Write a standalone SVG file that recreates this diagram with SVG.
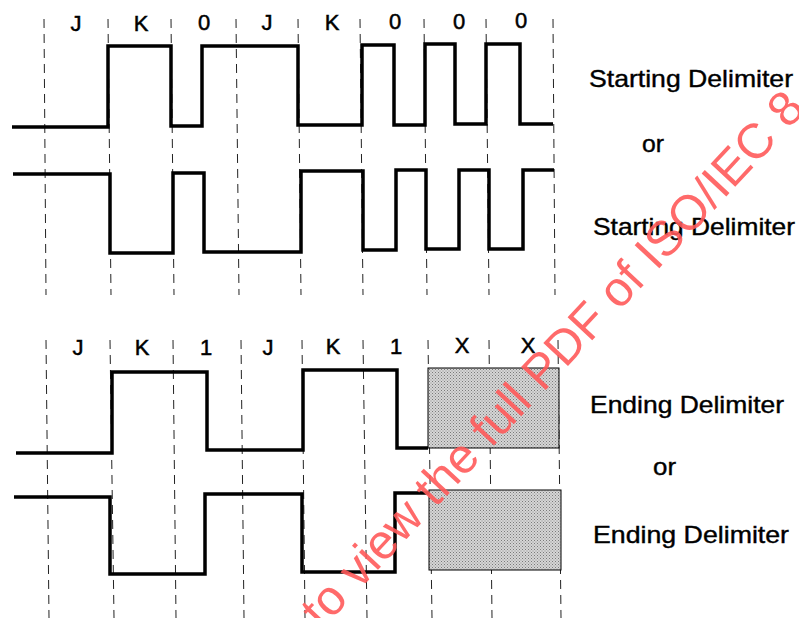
<svg xmlns="http://www.w3.org/2000/svg" width="799" height="618" viewBox="0 0 799 618">
<style>
.grid{stroke:#222;stroke-width:1;stroke-dasharray:9 6;fill:none}
.wave{stroke:#000;stroke-width:3.5;fill:none;stroke-linejoin:miter;stroke-linecap:butt}
.bit{font-family:"Liberation Sans",Arial,sans-serif;font-size:22px;fill:#000;stroke:#000;stroke-width:0.5;text-anchor:middle}
.lbl{font-family:"Liberation Sans",Arial,sans-serif;font-size:24px;fill:#000;stroke:#000;stroke-width:0.4}
.box{fill:url(#stipple);stroke:#000;stroke-width:1}
.wm{font-family:"Liberation Sans",Arial,sans-serif;font-size:49px;fill:#ff5a5a;fill-opacity:0.9}
</style>
<defs>
<pattern id="stipple" width="3" height="3" patternUnits="userSpaceOnUse">
<rect width="3" height="3" fill="#d6d6d6"/>
<rect x="0" y="0" width="1" height="1" fill="#7a7a7a"/>
<rect x="1.5" y="1.5" width="1" height="1" fill="#8a8a8a"/>
</pattern>
</defs>
<rect width="799" height="618" fill="#fff"/>
<g id="grid-top">
<line class="grid" x1="44" y1="19" x2="46" y2="295"/>
<line class="grid" x1="108" y1="19" x2="111" y2="295"/>
<line class="grid" x1="171" y1="19" x2="174" y2="295"/>
<line class="grid" x1="236" y1="19" x2="239" y2="295"/>
<line class="grid" x1="298" y1="19" x2="301" y2="295"/>
<line class="grid" x1="360" y1="19" x2="363" y2="295"/>
<line class="grid" x1="424" y1="19" x2="427" y2="295"/>
<line class="grid" x1="486" y1="19" x2="489" y2="295"/>
<line class="grid" x1="553" y1="19" x2="555" y2="295"/>
</g>
<g id="grid-bottom">
<line class="grid" x1="46" y1="340" x2="49" y2="618"/>
<line class="grid" x1="110" y1="340" x2="114" y2="618"/>
<line class="grid" x1="173" y1="340" x2="176" y2="618"/>
<line class="grid" x1="241" y1="340" x2="244" y2="618"/>
<line class="grid" x1="302" y1="340" x2="305" y2="618"/>
<line class="grid" x1="363" y1="340" x2="367" y2="618"/>
<line class="grid" x1="428" y1="340" x2="432" y2="618"/>
<line class="grid" x1="489" y1="340" x2="492" y2="618"/>
<line class="grid" x1="558" y1="340" x2="561" y2="618"/>
</g>
<g id="bits-top">
<text class="bit" x="76" y="31">J</text>
<text class="bit" x="141" y="31">K</text>
<text class="bit" x="204" y="30">0</text>
<text class="bit" x="267" y="30">J</text>
<text class="bit" x="332" y="30">K</text>
<text class="bit" x="395" y="29">0</text>
<text class="bit" x="459" y="29">0</text>
<text class="bit" x="521" y="28">0</text>
</g>
<g id="bits-bottom">
<text class="bit" x="78" y="355">J</text>
<text class="bit" x="142" y="355">K</text>
<text class="bit" x="206" y="355">1</text>
<text class="bit" x="268" y="355">J</text>
<text class="bit" x="333" y="354">K</text>
<text class="bit" x="396" y="354">1</text>
<text class="bit" x="462" y="353">X</text>
<text class="bit" x="528" y="353">X</text>
</g>
<g id="start-delimiter-a">
<path class="wave" d="M12,127 H108 V46 H171 V126 H202 V46 H298 V125 H362 V45 H394 V125 H425 V44 H455 V124 H486 V44 H520 V124 H553"/>
</g>
<g id="start-delimiter-b">
<path class="wave" d="M13,174 H110 V253 H173 V173 H204 V252 H301 V171 H363 V250 H396 V170 H426 V249 H459 V170 H489 V249 H523 V170 H554"/>
</g>
<g id="end-delimiter-a">
<path class="wave" d="M16,453 H112 V372 H207 V450 H303 V370 H397 V448 H428"/>
<rect class="box" x="428" y="368" width="131" height="80"/>
</g>
<g id="end-delimiter-b">
<path class="wave" d="M14,497 H110 V574 H205 V494 H302 V572 H395 V493 H429"/>
<rect class="box" x="429" y="490" width="132" height="80"/>
</g>
<g id="labels">
<text class="lbl" x="589" y="87" textLength="204" lengthAdjust="spacingAndGlyphs">Starting Delimiter</text>
<text class="lbl" x="642" y="152" textLength="22" lengthAdjust="spacingAndGlyphs">or</text>
<text class="lbl" x="593" y="235" textLength="202" lengthAdjust="spacingAndGlyphs">Starting Delimiter</text>
<text class="lbl" x="590" y="413" textLength="194" lengthAdjust="spacingAndGlyphs">Ending Delimiter</text>
<text class="lbl" x="653" y="475" textLength="23" lengthAdjust="spacingAndGlyphs">or</text>
<text class="lbl" x="593" y="543" textLength="196" lengthAdjust="spacingAndGlyphs">Ending Delimiter</text>
</g>
<text class="wm" transform="translate(322,630) rotate(-47)">to view the full PDF of ISO/IEC 8</text>
</svg>
